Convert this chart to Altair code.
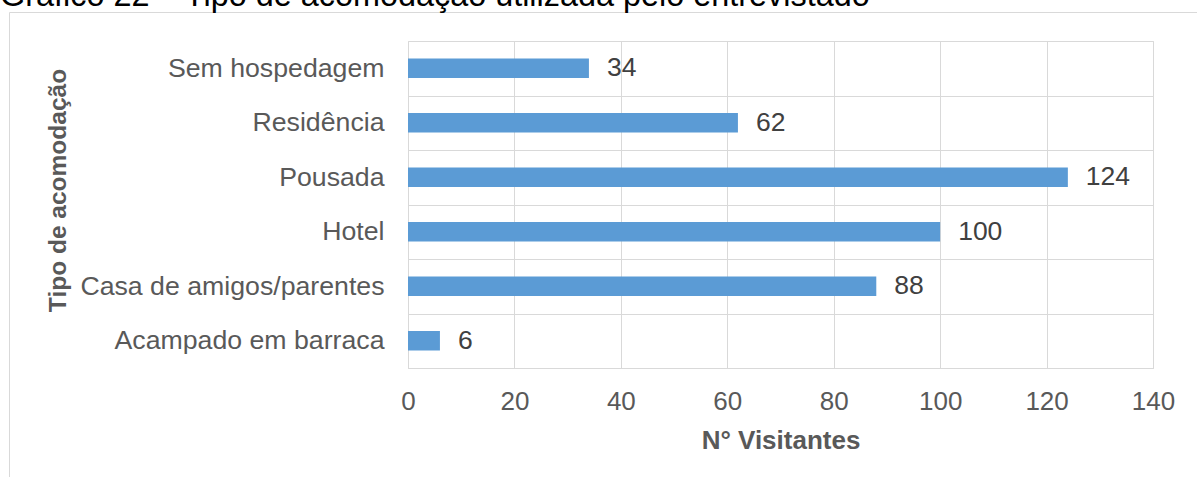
import altair as alt
import pandas as pd

categories = ["Sem hospedagem", "Residência", "Pousada", "Hotel",
              "Casa de amigos/parentes", "Acampado em barraca"]
visitors = [34, 62, 124, 100, 88, 6]
x_ticks = [0, 20, 40, 60, 80, 100, 120, 140]
chart_title = "Gráfico 22 – Tipo de acomodação utilizada pelo entrevistado"
x_title = "N° Visitantes"
y_title = "Tipo de acomodação"

df = pd.DataFrame({"cat": categories, "val": visitors})

FONT = "Liberation Sans"
W, H = 745, 327
PAD = {"left": 408, "top": 41, "right": 44, "bottom": 109}

y_enc = alt.Y("cat:N", sort=categories,
              scale=alt.Scale(paddingInner=0, paddingOuter=0),
              axis=alt.Axis(title=y_title, labelFont=FONT, labelFontSize=26.7,
                            labelColor="#595959", labelPadding=24, labelLimit=0,
                            ticks=False,
                            domain=False, grid=True, gridColor="#d9d9d9",
                            tickBand="extent", titleFont=FONT, titleFontSize=24.5,
                            titleFontWeight="bold", titleColor="#595959",
                            titleAngle=270, titleX=-343, titleY=149,
                            titleAlign="center", titleBaseline="alphabetic"))
x_enc = alt.X("val:Q", scale=alt.Scale(domain=[0, 140], nice=False),
              axis=alt.Axis(title=x_title, values=x_ticks, labelFont=FONT,
                            labelFontSize=26, labelColor="#595959",
                            labelPadding=20, labelFlush=False, ticks=False,
                            domain=True,
                            domainColor="#d9d9d9", grid=True, gridColor="#d9d9d9",
                            titleFont=FONT, titleFontSize=26, titleFontWeight="bold",
                            titleColor="#595959", titleY=80,
                            titleBaseline="alphabetic"))

bars = alt.Chart(df).mark_bar(size=19.5, color="#5B9BD5").encode(x=x_enc, y=y_enc)
labels = alt.Chart(df).mark_text(align="left", baseline="middle", dx=18,
                                 font=FONT, fontSize=26.5, color="#404040").encode(
    x="val:Q", y=alt.Y("cat:N", sort=categories), text="val:Q")

border = alt.Chart(alt.Data(values=[{}])).mark_rect(
    fill=None, stroke="#d9d9d9", strokeWidth=1).encode(
    x=alt.value(9 - 408 + 0.5), x2=alt.value(1300), y=alt.value(12 - 41 + 0.5),
    y2=alt.value(600))

title = alt.Chart(alt.Data(values=[{"t": chart_title}])).mark_text(
    align="left", baseline="alphabetic", font=FONT, fontSize=32.4,
    color="#000000").encode(x=alt.value(-408), y=alt.value(6 - 41), text="t:N")

chart = alt.layer(border, bars, labels, title).properties(
    width=W, height=H, padding=PAD,
    autosize=alt.AutoSizeParams(type="none")
).configure_view(strokeWidth=0).configure(background="white")

chart.save("out.html", embed_options={"renderer": "svg", "actions": False})
